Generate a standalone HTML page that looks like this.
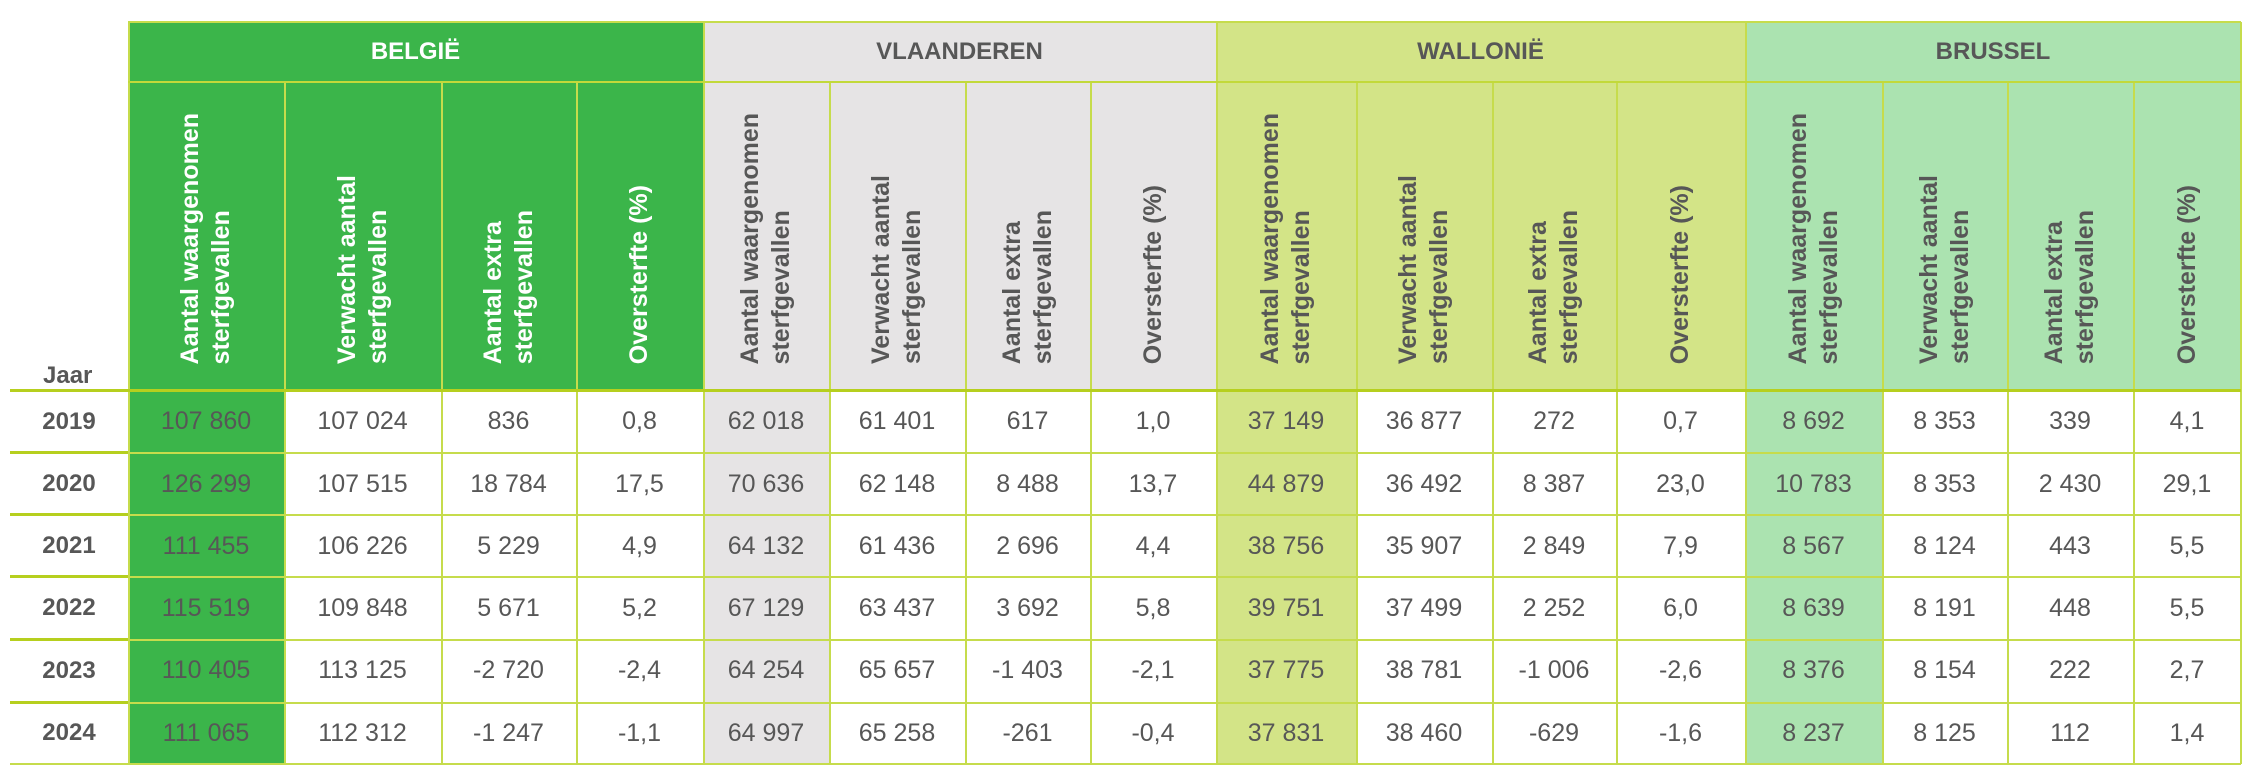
<!DOCTYPE html>
<html><head><meta charset="utf-8"><style>
body{margin:0;width:2258px;height:776px;background:#fff;position:relative;overflow:hidden;font-family:"Liberation Sans",Arial,sans-serif;color:#575757}
.a{position:absolute}
.c{position:absolute;display:flex;align-items:center;justify-content:center;font-size:25px;white-space:nowrap}
.g{position:absolute;display:flex;align-items:center;justify-content:center;font-size:24px;font-weight:bold;top:22px;height:60px}
.h{position:absolute;top:82px;height:282px;display:flex;justify-content:center;align-items:flex-end}
.h span{writing-mode:vertical-rl;transform:rotate(180deg);font-size:25px;font-weight:bold;line-height:31px;white-space:nowrap;text-align:left}
.y{position:absolute;left:10px;width:118px;display:flex;align-items:center;justify-content:center;font-size:24px;font-weight:bold}
.vl{position:absolute;width:1.5px;background:#c6dc4c}
.hl{position:absolute;background:#c6dc4c}
</style></head><body>
<!-- backgrounds -->
<div class="a" style="left:128px;top:22px;width:575px;height:368px;background:#3bb54a"></div>
<div class="a" style="left:703px;top:22px;width:513px;height:368px;background:#e6e4e5"></div>
<div class="a" style="left:1216px;top:22px;width:529px;height:368px;background:#d3e487"></div>
<div class="a" style="left:1745px;top:22px;width:496px;height:368px;background:#abe3b0"></div>
<div class="a" style="left:128px;top:390px;width:156px;height:374px;background:#3bb54a"></div>
<div class="a" style="left:703px;top:390px;width:126px;height:374px;background:#e6e4e5"></div>
<div class="a" style="left:1216px;top:390px;width:140px;height:374px;background:#d3e487"></div>
<div class="a" style="left:1745px;top:390px;width:137px;height:374px;background:#abe3b0"></div>

<!-- group headers -->
<div class="g" style="left:128px;width:575px;color:#fff">BELGIË</div>
<div class="g" style="left:703px;width:513px">VLAANDEREN</div>
<div class="g" style="left:1216px;width:529px">WALLONIË</div>
<div class="g" style="left:1745px;width:496px">BRUSSEL</div>

<!-- column headers -->
<div class="h" style="left:128px;width:156px;color:#fff"><span>Aantal waargenomen<br>sterfgevallen</span></div>
<div class="h" style="left:284px;width:157px;color:#fff"><span>Verwacht aantal<br>sterfgevallen</span></div>
<div class="h" style="left:441px;width:135px;color:#fff"><span>Aantal extra<br>sterfgevallen</span></div>
<div class="h" style="left:576px;width:127px;color:#fff"><span>Oversterfte (%)</span></div>
<div class="h" style="left:703px;width:126px"><span>Aantal waargenomen<br>sterfgevallen</span></div>
<div class="h" style="left:829px;width:136px"><span>Verwacht aantal<br>sterfgevallen</span></div>
<div class="h" style="left:965px;width:125px"><span>Aantal extra<br>sterfgevallen</span></div>
<div class="h" style="left:1090px;width:126px"><span>Oversterfte (%)</span></div>
<div class="h" style="left:1216px;width:140px"><span>Aantal waargenomen<br>sterfgevallen</span></div>
<div class="h" style="left:1356px;width:136px"><span>Verwacht aantal<br>sterfgevallen</span></div>
<div class="h" style="left:1492px;width:124px"><span>Aantal extra<br>sterfgevallen</span></div>
<div class="h" style="left:1616px;width:129px"><span>Oversterfte (%)</span></div>
<div class="h" style="left:1745px;width:137px"><span>Aantal waargenomen<br>sterfgevallen</span></div>
<div class="h" style="left:1882px;width:125px"><span>Verwacht aantal<br>sterfgevallen</span></div>
<div class="h" style="left:2007px;width:126px"><span>Aantal extra<br>sterfgevallen</span></div>
<div class="h" style="left:2133px;width:108px"><span>Oversterfte (%)</span></div>

<div class="a" style="left:43px;top:362px;font-size:24px;font-weight:bold">Jaar</div>

<!-- years -->
<div class="y" style="top:391px;height:61px">2019</div>
<div class="y" style="top:453px;height:62px">2020</div>
<div class="y" style="top:515px;height:62px">2021</div>
<div class="y" style="top:577px;height:62px">2022</div>
<div class="y" style="top:639px;height:63px">2023</div>
<div class="y" style="top:702px;height:62px">2024</div>

<!-- data rows -->
<div class="a" style="left:0;top:391px;width:2258px;height:61px">
<div class="c" style="left:128px;width:156px;height:61px">107 860</div><div class="c" style="left:284px;width:157px;height:61px">107 024</div><div class="c" style="left:441px;width:135px;height:61px">836</div><div class="c" style="left:576px;width:127px;height:61px">0,8</div>
<div class="c" style="left:703px;width:126px;height:61px">62 018</div><div class="c" style="left:829px;width:136px;height:61px">61 401</div><div class="c" style="left:965px;width:125px;height:61px">617</div><div class="c" style="left:1090px;width:126px;height:61px">1,0</div>
<div class="c" style="left:1216px;width:140px;height:61px">37 149</div><div class="c" style="left:1356px;width:136px;height:61px">36 877</div><div class="c" style="left:1492px;width:124px;height:61px">272</div><div class="c" style="left:1616px;width:129px;height:61px">0,7</div>
<div class="c" style="left:1745px;width:137px;height:61px">8 692</div><div class="c" style="left:1882px;width:125px;height:61px">8 353</div><div class="c" style="left:2007px;width:126px;height:61px">339</div><div class="c" style="left:2133px;width:108px;height:61px">4,1</div>
</div>
<div class="a" style="left:0;top:453px;width:2258px;height:62px">
<div class="c" style="left:128px;width:156px;height:62px">126 299</div><div class="c" style="left:284px;width:157px;height:62px">107 515</div><div class="c" style="left:441px;width:135px;height:62px">18 784</div><div class="c" style="left:576px;width:127px;height:62px">17,5</div>
<div class="c" style="left:703px;width:126px;height:62px">70 636</div><div class="c" style="left:829px;width:136px;height:62px">62 148</div><div class="c" style="left:965px;width:125px;height:62px">8 488</div><div class="c" style="left:1090px;width:126px;height:62px">13,7</div>
<div class="c" style="left:1216px;width:140px;height:62px">44 879</div><div class="c" style="left:1356px;width:136px;height:62px">36 492</div><div class="c" style="left:1492px;width:124px;height:62px">8 387</div><div class="c" style="left:1616px;width:129px;height:62px">23,0</div>
<div class="c" style="left:1745px;width:137px;height:62px">10 783</div><div class="c" style="left:1882px;width:125px;height:62px">8 353</div><div class="c" style="left:2007px;width:126px;height:62px">2 430</div><div class="c" style="left:2133px;width:108px;height:62px">29,1</div>
</div>
<div class="a" style="left:0;top:515px;width:2258px;height:62px">
<div class="c" style="left:128px;width:156px;height:62px">111 455</div><div class="c" style="left:284px;width:157px;height:62px">106 226</div><div class="c" style="left:441px;width:135px;height:62px">5 229</div><div class="c" style="left:576px;width:127px;height:62px">4,9</div>
<div class="c" style="left:703px;width:126px;height:62px">64 132</div><div class="c" style="left:829px;width:136px;height:62px">61 436</div><div class="c" style="left:965px;width:125px;height:62px">2 696</div><div class="c" style="left:1090px;width:126px;height:62px">4,4</div>
<div class="c" style="left:1216px;width:140px;height:62px">38 756</div><div class="c" style="left:1356px;width:136px;height:62px">35 907</div><div class="c" style="left:1492px;width:124px;height:62px">2 849</div><div class="c" style="left:1616px;width:129px;height:62px">7,9</div>
<div class="c" style="left:1745px;width:137px;height:62px">8 567</div><div class="c" style="left:1882px;width:125px;height:62px">8 124</div><div class="c" style="left:2007px;width:126px;height:62px">443</div><div class="c" style="left:2133px;width:108px;height:62px">5,5</div>
</div>
<div class="a" style="left:0;top:577px;width:2258px;height:62px">
<div class="c" style="left:128px;width:156px;height:62px">115 519</div><div class="c" style="left:284px;width:157px;height:62px">109 848</div><div class="c" style="left:441px;width:135px;height:62px">5 671</div><div class="c" style="left:576px;width:127px;height:62px">5,2</div>
<div class="c" style="left:703px;width:126px;height:62px">67 129</div><div class="c" style="left:829px;width:136px;height:62px">63 437</div><div class="c" style="left:965px;width:125px;height:62px">3 692</div><div class="c" style="left:1090px;width:126px;height:62px">5,8</div>
<div class="c" style="left:1216px;width:140px;height:62px">39 751</div><div class="c" style="left:1356px;width:136px;height:62px">37 499</div><div class="c" style="left:1492px;width:124px;height:62px">2 252</div><div class="c" style="left:1616px;width:129px;height:62px">6,0</div>
<div class="c" style="left:1745px;width:137px;height:62px">8 639</div><div class="c" style="left:1882px;width:125px;height:62px">8 191</div><div class="c" style="left:2007px;width:126px;height:62px">448</div><div class="c" style="left:2133px;width:108px;height:62px">5,5</div>
</div>
<div class="a" style="left:0;top:639px;width:2258px;height:63px">
<div class="c" style="left:128px;width:156px;height:63px">110 405</div><div class="c" style="left:284px;width:157px;height:63px">113 125</div><div class="c" style="left:441px;width:135px;height:63px">-2 720</div><div class="c" style="left:576px;width:127px;height:63px">-2,4</div>
<div class="c" style="left:703px;width:126px;height:63px">64 254</div><div class="c" style="left:829px;width:136px;height:63px">65 657</div><div class="c" style="left:965px;width:125px;height:63px">-1 403</div><div class="c" style="left:1090px;width:126px;height:63px">-2,1</div>
<div class="c" style="left:1216px;width:140px;height:63px">37 775</div><div class="c" style="left:1356px;width:136px;height:63px">38 781</div><div class="c" style="left:1492px;width:124px;height:63px">-1 006</div><div class="c" style="left:1616px;width:129px;height:63px">-2,6</div>
<div class="c" style="left:1745px;width:137px;height:63px">8 376</div><div class="c" style="left:1882px;width:125px;height:63px">8 154</div><div class="c" style="left:2007px;width:126px;height:63px">222</div><div class="c" style="left:2133px;width:108px;height:63px">2,7</div>
</div>
<div class="a" style="left:0;top:702px;width:2258px;height:62px">
<div class="c" style="left:128px;width:156px;height:62px">111 065</div><div class="c" style="left:284px;width:157px;height:62px">112 312</div><div class="c" style="left:441px;width:135px;height:62px">-1 247</div><div class="c" style="left:576px;width:127px;height:62px">-1,1</div>
<div class="c" style="left:703px;width:126px;height:62px">64 997</div><div class="c" style="left:829px;width:136px;height:62px">65 258</div><div class="c" style="left:965px;width:125px;height:62px">-261</div><div class="c" style="left:1090px;width:126px;height:62px">-0,4</div>
<div class="c" style="left:1216px;width:140px;height:62px">37 831</div><div class="c" style="left:1356px;width:136px;height:62px">38 460</div><div class="c" style="left:1492px;width:124px;height:62px">-629</div><div class="c" style="left:1616px;width:129px;height:62px">-1,6</div>
<div class="c" style="left:1745px;width:137px;height:62px">8 237</div><div class="c" style="left:1882px;width:125px;height:62px">8 125</div><div class="c" style="left:2007px;width:126px;height:62px">112</div><div class="c" style="left:2133px;width:108px;height:62px">1,4</div>
</div>

<!-- vertical lines -->
<div class="vl" style="left:128px;top:22px;height:742px"></div>
<div class="vl" style="left:703px;top:22px;height:742px"></div>
<div class="vl" style="left:1216px;top:22px;height:742px"></div>
<div class="vl" style="left:1745px;top:22px;height:742px"></div>
<div class="vl" style="left:2240px;top:22px;height:742px"></div>
<div class="vl" style="left:284px;top:82px;height:682px"></div>
<div class="vl" style="left:441px;top:82px;height:682px"></div>
<div class="vl" style="left:576px;top:82px;height:682px"></div>
<div class="vl" style="left:829px;top:82px;height:682px"></div>
<div class="vl" style="left:965px;top:82px;height:682px"></div>
<div class="vl" style="left:1090px;top:82px;height:682px"></div>
<div class="vl" style="left:1356px;top:82px;height:682px"></div>
<div class="vl" style="left:1492px;top:82px;height:682px"></div>
<div class="vl" style="left:1616px;top:82px;height:682px"></div>
<div class="vl" style="left:1882px;top:82px;height:682px"></div>
<div class="vl" style="left:2007px;top:82px;height:682px"></div>
<div class="vl" style="left:2133px;top:82px;height:682px"></div>

<!-- horizontal lines -->
<div class="hl" style="left:128px;top:21px;width:2113px;height:1.5px"></div>
<div class="hl" style="left:128px;top:81px;width:2113px;height:2px;background:#c2d93a"></div>
<div class="hl" style="left:10px;top:389px;width:2231px;height:3px;background:#b6cf1e"></div>
<div class="hl" style="left:10px;top:451px;width:118px;height:3px;background:#b6cf1e"></div>
<div class="hl" style="left:10px;top:513px;width:118px;height:3px;background:#b6cf1e"></div>
<div class="hl" style="left:10px;top:575px;width:118px;height:3px;background:#b6cf1e"></div>
<div class="hl" style="left:10px;top:638px;width:118px;height:3px;background:#b6cf1e"></div>
<div class="hl" style="left:10px;top:701px;width:118px;height:3px;background:#b6cf1e"></div>
<div class="hl" style="left:128px;top:452px;width:2113px;height:1.5px"></div>
<div class="hl" style="left:128px;top:514px;width:2113px;height:1.5px"></div>
<div class="hl" style="left:128px;top:576px;width:2113px;height:1.5px"></div>
<div class="hl" style="left:128px;top:639px;width:2113px;height:1.5px"></div>
<div class="hl" style="left:128px;top:702px;width:2113px;height:1.5px"></div>
<div class="hl" style="left:10px;top:763px;width:2231px;height:2px"></div>
</body></html>
